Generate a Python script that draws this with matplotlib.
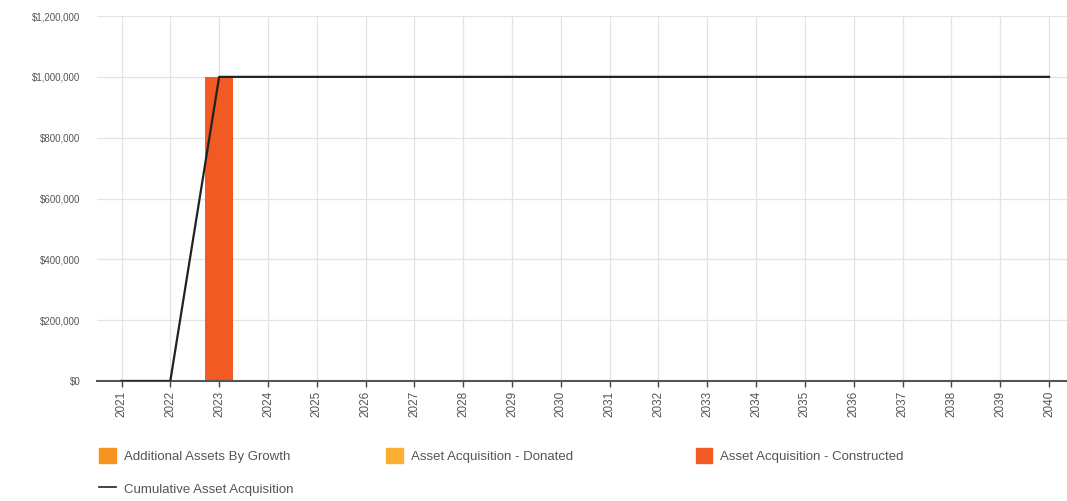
import numpy as np
import matplotlib.pyplot as plt
from matplotlib.patches import Patch
from matplotlib.lines import Line2D
from matplotlib.ticker import FuncFormatter

plt.rcParams['font.family'] = ['Liberation Sans Narrow', 'Liberation Sans', 'DejaVu Sans']

years = list(range(2021, 2041))
growth = [0] * 20
donated = [0] * 20
constructed = [0, 0, 1000000] + [0] * 17
cumulative = [0, 0] + [1000000] * 18

c_growth = '#f7941d'
c_donated = '#fbb034'
c_constructed = '#f15a22'
text_col = '#555555'

fig = plt.figure(figsize=(10.67, 5.01), dpi=100)
ax = fig.add_axes([0.091, 0.2395, 0.915, 0.7285])

x = np.array(years)
w = 0.57
ax.bar(x, growth, w, color=c_growth, zorder=2)
ax.bar(x, donated, w, bottom=growth, color=c_donated, zorder=2)
base = np.array(growth) + np.array(donated)
ax.bar(x, constructed, w, bottom=base, color=c_constructed, zorder=2)
ax.plot(x, cumulative, color='#222222', lw=1.6, zorder=3)

ax.set_xlim(2020.5, 2040.5)
ax.set_ylim(0, 1200000)
ax.set_xticks(years)
ax.set_xticklabels([str(y) for y in years], rotation=90)
ax.set_yticks(np.arange(0, 1200001, 200000))
ax.yaxis.set_major_formatter(FuncFormatter(lambda v, p: '${:,.0f}'.format(v)))

ax.grid(True, color='#e3e3e3', lw=0.9, zorder=0)
ax.set_axisbelow(True)
for s in ['top', 'right', 'left']:
    ax.spines[s].set_visible(False)
ax.spines['bottom'].set_color('#555555')
ax.spines['bottom'].set_linewidth(1.5)
ax.tick_params(axis='y', length=0, pad=12, labelsize=7, labelcolor=text_col)
ax.tick_params(axis='x', length=4, width=1, color='#444444', pad=3,
               labelsize=8.5, labelcolor=text_col)

# legend: three columns below the axes
leg_kw = dict(frameon=False, fontsize=9.5, labelcolor=text_col, handlelength=1.25,
              handleheight=1.4, handletextpad=0.6, labelspacing=1.35,
              borderaxespad=0, loc='upper left')
fig.legend(handles=[Patch(color=c_growth, label='Additional Assets By Growth'),
                    Line2D([], [], color='#222222', lw=1.2, label='Cumulative Asset Acquisition')],
           bbox_to_anchor=(0.088, 0.117), **leg_kw)
fig.legend(handles=[Patch(color=c_donated, label='Asset Acquisition - Donated')],
           bbox_to_anchor=(0.357, 0.117), **leg_kw)
fig.legend(handles=[Patch(color=c_constructed, label='Asset Acquisition - Constructed')],
           bbox_to_anchor=(0.647, 0.117), **leg_kw)

fig.savefig('out.png', dpi=100)
